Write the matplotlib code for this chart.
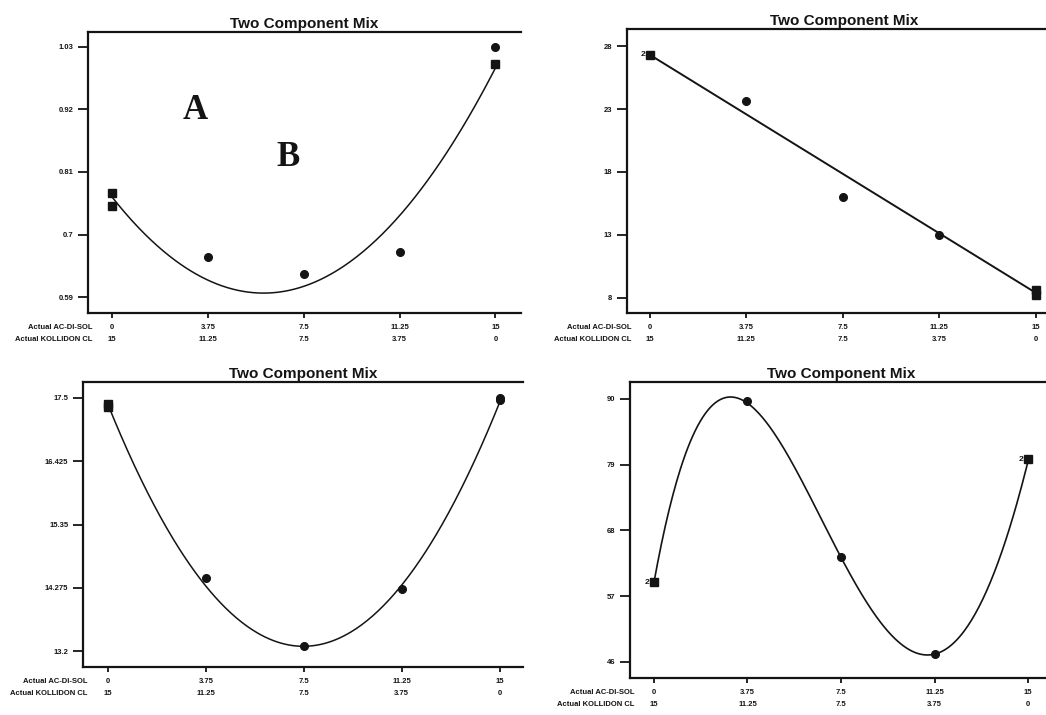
import numpy as np
import matplotlib
matplotlib.use("Agg")
import matplotlib.pyplot as plt

plt.rcParams['font.family'] = ['Liberation Sans', 'DejaVu Sans']

# ---- data ----
x_ticks = [0, 3.75, 7.5, 11.25, 15]
acdisol_labels = ["0", "3.75", "7.5", "11.25", "15"]
kollidon_labels = ["15", "11.25", "7.5", "3.75", "0"]
row_names = ["Actual AC-DI-SOL", "Actual KOLLIDON CL"]
title = "Two Component Mix"

# panel A (top-left)
tl_x = [0, 0, 3.75, 7.5, 11.25, 15, 15]
tl_y = [0.773, 0.750, 0.660, 0.630, 0.669, 1.030, 1.000]
tl_mk = ['s', 's', 'o', 'o', 'o', 'o', 's']
tl_fit_x = [0, 3.75, 7.5, 11.25, 15]
tl_fit_y = [0.766, 0.620, 0.609, 0.733, 0.993]
tl_yticks = [0.59, 0.70, 0.81, 0.92, 1.03]
tl_ylabels = ["0.59", "0.7", "0.81", "0.92", "1.03"]

# top-right
tr_x = [0, 3.75, 7.5, 11.25, 15, 15]
tr_y = [27.29, 23.63, 16.02, 13.0, 8.63, 8.24]
tr_mk = ['s', 'o', 'o', 'o', 's', 's']
tr_fit_x = [0, 15]
tr_fit_y = [27.3, 8.4]
tr_yticks = [8, 13, 18, 23, 28]
tr_ylabels = ["8", "13", "18", "23", "28"]

# bottom-left
bl_x = [0, 0, 3.75, 7.5, 11.25, 15, 15]
bl_y = [17.39, 17.34, 14.45, 13.28, 14.26, 17.50, 17.46]
bl_mk = ['s', 's', 'o', 'o', 'o', 'o', 'o']
bl_fit_x = [0, 3.75, 7.5, 11.25, 15]
bl_fit_y = [17.35, 14.38, 13.27, 14.26, 17.45]
bl_yticks = [13.2, 14.275, 15.35, 16.425, 17.5]
bl_ylabels = ["13.2", "14.275", "15.35", "16.425", "17.5"]

# bottom-right
br_x = [0, 3.75, 7.5, 11.25, 15]
br_y = [59.3, 89.7, 63.5, 47.3, 79.9]
br_mk = ['s', 'o', 'o', 'o', 's']
br_fit_x = [0, 3.75, 7.5, 11.25, 15]
br_fit_y = [59.3, 89.3, 63.5, 47.3, 79.6]
br_yticks = [46, 57, 68, 79, 90]
br_ylabels = ["46", "57", "68", "79", "90"]

panels = [
    dict(rect=[0.0841, 0.5622, 0.4140, 0.3930], xlim=(-0.94, 16.0), ylim=(0.562, 1.056),
         x=tl_x, y=tl_y, mk=tl_mk, fx=tl_fit_x, fy=tl_fit_y, deg=2,
         yt=tl_yticks, yl=tl_ylabels, twos=[], lw=1.1),
    dict(rect=[0.5994, 0.5622, 0.4155, 0.3972], xlim=(-0.89, 16.0), ylim=(6.8, 29.35),
         x=tr_x, y=tr_y, mk=tr_mk, fx=tr_fit_x, fy=tr_fit_y, deg=1,
         yt=tr_yticks, yl=tr_ylabels, twos=[(0, 27.29)], lw=1.4),
    dict(rect=[0.0793, 0.0671, 0.4207, 0.3986], xlim=(-0.96, 15.9), ylim=(12.93, 17.77),
         x=bl_x, y=bl_y, mk=bl_mk, fx=bl_fit_x, fy=bl_fit_y, deg=2,
         yt=bl_yticks, yl=bl_ylabels, twos=[], lw=1.1),
    dict(rect=[0.6023, 0.0517, 0.4044, 0.4140], xlim=(-0.96, 16.0), ylim=(43.3, 92.84),
         x=br_x, y=br_y, mk=br_mk, fx=br_fit_x, fy=br_fit_y, deg=4,
         yt=br_yticks, yl=br_ylabels, twos=[(0, 59.3), (15, 79.9)], lw=1.2),
]

fig = plt.figure(figsize=(10.46, 7.15), dpi=100)
ink = '#141414'
tick_fs = 5.5
xt_len, xt_pad = 3.6, 4.0

for p in panels:
    ax = fig.add_axes(p['rect'])
    ax.set_xlim(*p['xlim'])
    ax.set_ylim(*p['ylim'])
    for s in ax.spines.values():
        s.set_linewidth(1.6)
        s.set_color(ink)
    ax.spines['right'].set_visible(False)
    # model curve
    coef = np.polyfit(p['fx'], p['fy'], p['deg'])
    xs = np.linspace(0, 15, 300)
    ax.plot(xs, np.polyval(coef, xs), color=ink, lw=p['lw'], zorder=2)
    # points
    for xi, yi, m in zip(p['x'], p['y'], p['mk']):
        ax.plot([xi], [yi], marker=m, color=ink, markersize=5.5,
                linestyle='none', zorder=3)
    for (xi, yi) in p['twos']:
        ax.annotate("2", xy=(xi, yi), xytext=(-3.5, 0), textcoords='offset points',
                    ha='right', va='center', fontsize=6, fontweight='bold', color=ink)
    # ticks
    ax.set_yticks(p['yt'])
    ax.set_yticklabels(p['yl'], fontsize=tick_fs, fontweight='bold')
    ax.set_xticks(x_ticks)
    ax.set_xticklabels([a + "\n" + b for a, b in zip(acdisol_labels, kollidon_labels)],
                       fontsize=tick_fs, fontweight='bold', linespacing=2.0)
    ax.tick_params(axis='y', direction='out', length=7, width=1.3, pad=3.5, colors=ink)
    ax.tick_params(axis='x', direction='out', length=xt_len, width=1.3, pad=xt_pad, colors=ink)
    ax.annotate("\n".join(row_names), xy=(0, 0), xycoords='axes fraction',
                xytext=(3.5, -(xt_len + xt_pad)), textcoords='offset points',
                ha='right', va='top', fontsize=tick_fs, fontweight='bold',
                linespacing=2.0, color=ink, annotation_clip=False)
    ax.set_title(title, fontsize=11, fontweight='bold', pad=3, color=ink)
    p['ax'] = ax

ax0 = panels[0]['ax']
ax0.text(0.247, 0.722, "A", transform=ax0.transAxes, ha='center', va='center',
         fontsize=25, fontweight='bold', family='Liberation Serif', color=ink)
ax0.text(0.462, 0.552, "B", transform=ax0.transAxes, ha='center', va='center',
         fontsize=25, fontweight='bold', family='Liberation Serif', color=ink)

fig.savefig("out.png", dpi=100)
